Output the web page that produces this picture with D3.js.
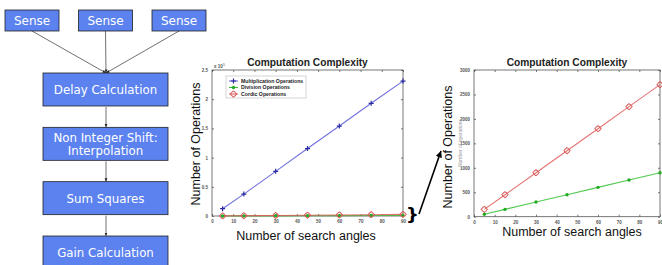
<!DOCTYPE html>
<html>
<head>
<meta charset="utf-8">
<script src="https://cdn.jsdelivr.net/npm/d3@7.9.0/dist/d3.min.js"></script>
<style>
  body { margin: 0; background: #fff; }
  svg { display: block; }
</style>
</head>
<body>
<svg width="662" height="265"></svg>
<script>
// flow chart
const senseBoxes = ['Sense', 'Sense', 'Sense'];
const stepBoxes = [['Delay Calculation'], ['Non Integer Shift:', 'Interpolation'], ['Sum Squares'], ['Gain Calculation']];

// chart data
const angles = [5, 15, 30, 45, 60, 75, 90];
const multOps = [12500, 37500, 76500, 115500, 154000, 193000, 231000];
const divOps = [50, 150, 300, 450, 600, 750, 900];
const cordicOps = [150, 450, 900, 1350, 1800, 2250, 2700];
const seriesNames = ['Multiplication Operations', 'Division Operations', 'Cordic Operations'];
const xTicks = [0, 10, 20, 30, 40, 50, 60, 70, 80, 90];
const leftYTicks = [0, 0.5, 1, 1.5, 2, 2.5];
const rightYTicks = [0, 500, 1000, 1500, 2000, 2500, 3000];

const svg = d3.select('svg');
const boxFill = '#5b82ef';

// defs for arrows
const defs = svg.append('defs');
defs.append('marker').attr('id', 'ah').attr('viewBox', '0 0 10 10')
  .attr('refX', 10).attr('refY', 5).attr('markerWidth', 5).attr('markerHeight', 5)
  .attr('orient', 'auto')
  .append('path').attr('d', 'M0,1 L10,5 L0,9 z').attr('fill', '#222');
defs.append('marker').attr('id', 'ahb').attr('viewBox', '0 0 10 10')
  .attr('refX', 10).attr('refY', 5).attr('markerWidth', 4).attr('markerHeight', 4)
  .attr('orient', 'auto')
  .append('path').attr('d', 'M0,0 L10,5 L0,10 z').attr('fill', '#000');

// sense boxes
const senseX = d3.scalePoint().domain(d3.range(senseBoxes.length)).range([32, 179]);
const flowX = 106;
senseBoxes.forEach((s, i) => {
  const cx = senseX(i);
  svg.append('line').attr('x1', cx).attr('y1', 31).attr('x2', flowX).attr('y2', 73)
    .attr('stroke', '#333').attr('stroke-width', 0.7).attr('marker-end', 'url(#ah)');
  svg.append('rect').attr('x', cx - 27).attr('y', 10).attr('width', 54).attr('height', 21)
    .attr('fill', boxFill).attr('stroke', '#222').attr('stroke-width', 0.8);
  svg.append('text').attr('x', cx).attr('y', 25).attr('text-anchor', 'middle')
    .attr('font-family', 'DejaVu Sans').attr('font-size', 12).attr('fill', '#fff').text(s);
});

// process boxes
const stepY = d3.scaleLinear().domain([0, 3]).range([73, 236]);
stepBoxes.forEach((lines, i) => {
  const y = stepY(i);
  if (i < stepBoxes.length - 1) {
    svg.append('line').attr('x1', flowX).attr('y1', y + 34).attr('x2', flowX).attr('y2', stepY(i + 1))
      .attr('stroke', '#333').attr('stroke-width', 0.7).attr('marker-end', 'url(#ah)');
  }
  svg.append('rect').attr('x', 43).attr('y', y).attr('width', 125).attr('height', 33)
    .attr('fill', boxFill).attr('stroke', '#222').attr('stroke-width', 0.8);
  lines.forEach((t, j) => {
    const ty = y + 21 + (j - (lines.length - 1) / 2) * 13;
    svg.append('text').attr('x', 105.5).attr('y', ty).attr('text-anchor', 'middle')
      .attr('font-family', 'DejaVu Sans').attr('font-size', 11.8).attr('fill', '#fff').text(t);
  });
});

// marker shapes
const colors = ['#5858d8', '#33c033', '#e05a5a'];
function drawMarker(g, kind, x, y, color) {
  if (kind === 0) {
    g.append('path').attr('d', `M${x - 2.5},${y}h5M${x},${y - 2.5}v5`)
      .attr('stroke', '#2a2aa0').attr('stroke-width', 1.2);
  } else if (kind === 1) {
    g.append('circle').attr('cx', x).attr('cy', y).attr('r', 1.7).attr('fill', '#22aa22');
  } else {
    g.append('path').attr('d', `M${x},${y - 3.2}L${x + 3.2},${y}L${x},${y + 3.2}L${x - 3.2},${y}z`)
      .attr('fill', 'none').attr('stroke', '#d04040').attr('stroke-width', 1);
    g.append('circle').attr('cx', x).attr('cy', y).attr('r', 2.6)
      .attr('fill', 'none').attr('stroke', '#e07070').attr('stroke-width', 0.7);
  }
}

function drawChart(opt) {
  const g = svg.append('g');
  const x = d3.scaleLinear().domain([0, 90]).range([opt.x0, opt.x1]);
  const y = d3.scaleLinear().domain(opt.yDomain).range([opt.y0, opt.y1]);

  g.append('rect').attr('x', opt.x0).attr('y', opt.y1).attr('width', opt.x1 - opt.x0)
    .attr('height', opt.y0 - opt.y1).attr('fill', '#fff').attr('stroke', '#555').attr('stroke-width', 0.8);

  const style = sel => {
    sel.select('.domain').remove();
    sel.selectAll('line').attr('stroke', '#555').attr('stroke-width', 0.8);
    sel.selectAll('text').attr('font-family', 'Liberation Sans').attr('font-size', 4.5)
      .attr('fill', '#555').attr('font-weight', 'bold');
  };
  g.append('g').attr('transform', `translate(0,${opt.y0})`)
    .call(d3.axisBottom(x).tickValues(xTicks).tickSize(-2).tickPadding(4)).call(style);
  g.append('g').attr('transform', `translate(0,${opt.y1})`)
    .call(d3.axisTop(x).tickValues(xTicks).tickSize(-2).tickFormat('')).call(style);
  g.append('g').attr('transform', `translate(${opt.x0},0)`)
    .call(d3.axisLeft(y).tickValues(opt.yTicks).tickSize(-2).tickPadding(4).tickFormat(d3.format('~g'))).call(style);
  g.append('g').attr('transform', `translate(${opt.x1},0)`)
    .call(d3.axisRight(y).tickValues(opt.yTicks).tickSize(-2).tickFormat('')).call(style);

  const line = d3.line().x((d, i) => x(angles[i])).y(d => y(d / opt.scale));
  opt.series.forEach(k => {
    const vals = [multOps, divOps, cordicOps][k];
    g.append('path').datum(vals).attr('d', line).attr('fill', 'none')
      .attr('stroke', colors[k]).attr('stroke-width', 1.1).attr('opacity', 0.85);
  });
  opt.series.forEach(k => {
    const vals = [multOps, divOps, cordicOps][k];
    vals.forEach((v, i) => drawMarker(g, k, x(angles[i]), y(v / opt.scale), colors[k]));
  });

  g.append('text').attr('x', (opt.x0 + opt.x1) / 2).attr('y', 66).attr('text-anchor', 'middle')
    .attr('font-family', 'Liberation Sans').attr('font-weight', 'bold').attr('font-size', 10.2)
    .attr('fill', '#222').text('Computation Complexity');

  g.append('text').attr('transform', `translate(${opt.ylabX},${opt.ylabY}) rotate(-90)`)
    .attr('text-anchor', 'middle').attr('font-family', 'Liberation Sans').attr('font-size', 12.5)
    .attr('fill', '#111').text('Number of Operations');
  g.append('text').attr('x', opt.xlabX).attr('y', opt.xlabY).attr('text-anchor', 'middle')
    .attr('font-family', 'Liberation Sans').attr('font-size', 12.5)
    .attr('fill', '#111').text('Number of search angles');
  return { g, x, y };
}

const left = drawChart({
  x0: 212, x1: 403, y0: 216, y1: 70, yDomain: [0, 2.5], yTicks: leftYTicks, scale: 1e5,
  series: [0, 1, 2], ylabX: 200, ylabY: 144, xlabX: 306, xlabY: 240
});
left.g.append('text').attr('x', 214).attr('y', 68).attr('font-family', 'Liberation Sans')
  .attr('font-size', 4.5).attr('fill', '#555').attr('font-weight', 'bold').text('x 10');
left.g.append('text').attr('x', 223).attr('y', 66).attr('font-family', 'Liberation Sans')
  .attr('font-size', 3.5).attr('fill', '#555').text('5');

// legend
const lg = left.g.append('g');
lg.append('rect').attr('x', 226).attr('y', 76).attr('width', 80).attr('height', 22)
  .attr('fill', '#fff').attr('stroke', '#aaa').attr('stroke-width', 0.5);
seriesNames.forEach((n, i) => {
  const ly = 81 + i * 6.5;
  lg.append('line').attr('x1', 229).attr('x2', 238).attr('y1', ly).attr('y2', ly)
    .attr('stroke', colors[i]).attr('stroke-width', 1);
  drawMarker(lg, i, 233.5, ly, colors[i]);
  lg.append('text').attr('x', 241).attr('y', ly + 1.8).attr('font-family', 'Liberation Sans')
    .attr('font-weight', 'bold').attr('font-size', 5.2).attr('fill', '#222').text(n);
});

const right = drawChart({
  x0: 474, x1: 660, y0: 216.7, y1: 70, yDomain: [0, 3000], yTicks: rightYTicks, scale: 1,
  series: [1, 2], ylabX: 452, ylabY: 147, xlabX: 572, xlabY: 236
});
right.g.append('text').attr('transform', 'translate(462,143) rotate(-90)').attr('text-anchor', 'middle')
  .attr('font-family', 'Liberation Sans').attr('font-size', 5).attr('fill', '#999').text('Number of operations');

// brace and arrow
svg.append('text').attr('x', 406).attr('y', 221).attr('font-family', 'DejaVu Sans')
  .attr('font-weight', 'bold').attr('font-size', 18).attr('fill', '#000').text('}');
svg.append('line').attr('x1', 419).attr('y1', 214).attr('x2', 441).attr('y2', 151)
  .attr('stroke', '#000').attr('stroke-width', 1.6).attr('marker-end', 'url(#ahb)');
</script>
</body>
</html>
